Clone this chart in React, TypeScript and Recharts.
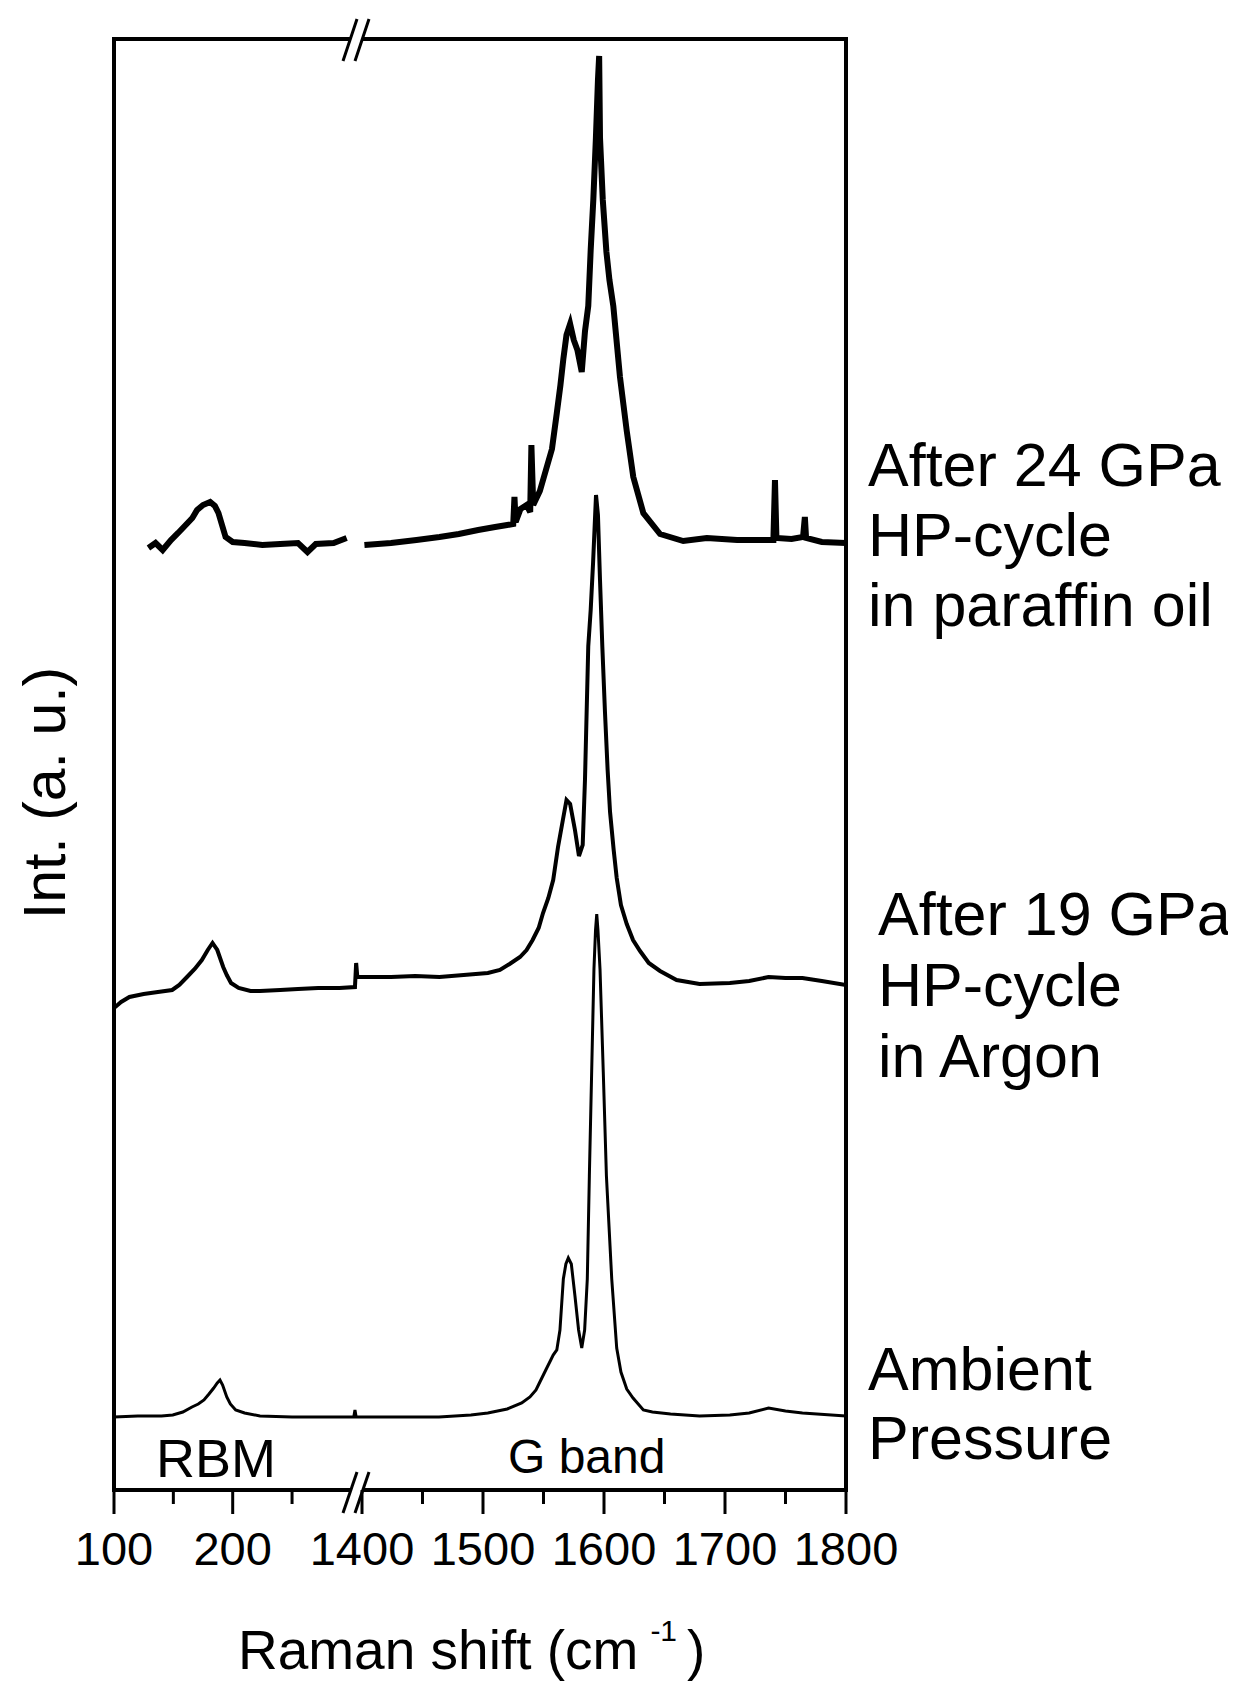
import React from 'react';
import { LineChart, Line, XAxis, YAxis, ReferenceArea, ReferenceLine, Customized } from 'recharts';

// ---------- data (Raman shift in cm^-1, intensity in arbitrary units) ----------
const paraffinLeftShift = [129, 135, 141, 148, 154, 158, 162, 166, 170, 175, 181, 185, 188, 191, 194, 200, 210, 225, 240, 255, 263, 270, 285, 296];
const paraffinLeftInt = [942, 947, 940, 950, 957, 962, 967, 972, 980, 985, 988, 984, 977, 965, 953, 948, 947, 945, 946, 947, 938, 946, 947, 952];

const paraffinRightShift = [1402, 1424, 1445, 1464, 1480, 1496, 1510, 1520, 1525, 1526, 1527, 1531, 1536, 1539, 1540, 1541.5, 1547, 1552, 1557, 1561, 1564, 1566.4, 1569, 1572, 1575, 1578, 1581.6, 1584.3, 1587, 1589, 1591.2, 1593.3, 1595, 1596, 1596.7, 1599, 1602, 1604.5, 1607.7, 1613.2, 1618.8, 1624.2, 1632.5, 1646.3, 1665.5, 1685, 1710, 1730, 1740, 1741.3, 1742.5, 1755, 1764.5, 1766, 1767, 1780, 1800];
const paraffinRightInt = [945, 947, 950, 953, 956, 960, 963, 965, 966, 993, 968, 981, 985, 978, 1045, 985, 999, 1020, 1041, 1077, 1105, 1131, 1155, 1166, 1150, 1140, 1118, 1159, 1184, 1240, 1291, 1352, 1410, 1434, 1352, 1290, 1238, 1210, 1184, 1113, 1059, 1013, 977, 956, 949, 952, 950, 950, 950, 1010, 952, 951, 953, 973, 952, 948, 947];

const argonShift = [100, 106, 113, 125, 137, 149, 155, 161.5, 168, 174, 179, 183, 187, 192, 195, 198.6, 205, 215, 223, 240, 255, 272, 290, 303, 304, 305, 1400, 1424, 1444, 1464, 1484, 1504, 1514, 1522, 1530.6, 1536, 1541, 1546, 1549.6, 1554, 1558, 1562, 1566, 1569, 1572, 1576, 1579.3, 1582.4, 1584.3, 1587, 1589, 1591, 1593.4, 1595, 1596.7, 1598.6, 1600.8, 1603, 1605, 1608, 1610.5, 1614, 1618.8, 1624, 1629.8, 1637, 1646.3, 1660, 1679, 1704, 1720, 1736, 1750, 1764, 1780, 1800];
const argonInt = [482, 488, 493, 496, 498, 500, 505, 513, 521, 530, 540, 547, 540, 523, 515, 507, 502, 499, 499, 500, 501, 502, 502, 503, 527, 513, 513, 513, 514, 513, 515, 517, 520, 526, 533, 540, 550, 562, 577, 592, 610, 643, 670, 690, 686, 660, 634, 645, 711, 844, 880, 928, 995, 975, 910, 844, 778, 720, 678, 640, 612, 585, 566, 550, 539, 527, 519, 510, 506, 507, 509, 513, 512, 512, 509, 505];

const ambientShift = [100, 120, 140, 149.5, 158, 165.7, 171, 175.8, 180, 184, 187, 189.3, 191.5, 195, 198, 202.5, 210, 223, 250, 280, 302, 303, 304, 1400, 1430, 1463.6, 1490, 1504, 1520, 1532, 1538.8, 1543.8, 1547, 1552.7, 1556, 1558, 1561, 1563.6, 1566.4, 1568.5, 1570.5, 1573, 1576, 1579, 1581.6, 1584, 1586.2, 1587.9, 1589.8, 1591.7, 1593, 1594, 1595, 1596.7, 1599.4, 1602, 1606.4, 1610.5, 1614, 1618.8, 1624, 1632.5, 1640, 1655, 1679, 1704, 1720, 1736, 1750, 1764, 1800];
const ambientInt = [73, 74, 74, 75, 78, 83, 86, 90, 96, 102, 107, 110, 105, 93, 86, 80, 77, 74, 73, 73, 73, 80, 73, 73, 73, 73, 75, 77, 81, 87, 93, 100, 108, 122, 130, 135, 140, 160, 211, 226, 232, 226, 194, 160, 142, 160, 211, 314, 418, 521, 560, 576, 560, 521, 418, 314, 211, 142, 118, 101, 92, 80, 78, 76, 74, 75, 77, 82, 79, 77, 74];

const tickShifts = [100, 150, 200, 250, 1400, 1450, 1500, 1550, 1600, 1650, 1700, 1750, 1800];
const tickLabels = ['100', '', '200', '', '1400', '', '1500', '', '1600', '', '1700', '', '1800'];

const seriesLabels = [
  ['After 24 GPa', 'HP-cycle', 'in paraffin oil'],
  ['After 19 GPa', 'HP-cycle', 'in Argon'],
  ['Ambient', 'Pressure'],
];

// ---------- broken axis scale: 100-310 | 1400-1800 ----------
const toP = (s: number) => (s < 1000 ? (s - 100) * 1.187 : 248 + (s - 1400) * 1.21);
const P_MAX = toP(1800);
const V_MAX = 1451;
const BREAK_P = 242;

const build = (xs: number[], ys: number[]) => xs.map((s, i) => ({ p: toP(s), v: ys[i] }));

const paraffinLeft = build(paraffinLeftShift, paraffinLeftInt);
const paraffinRight = build(paraffinRightShift, paraffinRightInt);
const argon = build(argonShift, argonInt);
const ambient = build(ambientShift, ambientInt);
const tickPos = tickShifts.map(toP);

const FONT = '"Liberation Sans", Arial, Helvetica, sans-serif';

const AxisTick = (props: any) => {
  const { x, y, index } = props;
  const label = tickLabels[index] ?? '';
  const major = label !== '';
  return (
    <g>
      <line x1={x} y1={y} x2={x} y2={y + (major ? 24 : 14)} stroke="#000" strokeWidth={3} />
      {major && (
        <text x={x} y={y + 75} textAnchor="middle" fontSize={47} fontFamily={FONT} fill="#000">
          {label}
        </text>
      )}
    </g>
  );
};

const Texts = () => (
  <g fontFamily={FONT} fill="#000">
    <text transform="translate(57,785) rotate(-90)" textAnchor="middle" fontSize={59}>Int. (a. u.)</text>
    <text x={230} y={1661} fontSize={55}>
      Raman shift (cm
      <tspan dx={12} dy={-28} fontSize={30}>-1</tspan>
      <tspan dx={10} dy={28}>)</tspan>
    </text>
    <text x={148} y={1469} fontSize={54}>RBM</text>
    <text x={500} y={1465} fontSize={48}>G band</text>
    {seriesLabels[0].map((t, i) => (
      <text key={'a' + i} x={860} y={478 + i * 70} fontSize={61}>{t}</text>
    ))}
    {seriesLabels[1].map((t, i) => (
      <text key={'b' + i} x={870} y={927 + i * 71} fontSize={61}>{t}</text>
    ))}
    {seriesLabels[2].map((t, i) => (
      <text key={'c' + i} x={860} y={1382 + i * 69} fontSize={61}>{t}</text>
    ))}
  </g>
);

export default function App() {
  return (
    <div style={{ width: 1228, height: 1676 }}>
      <LineChart width={1228} height={1676} margin={{ top: 31, right: 390, left: 106, bottom: 134 }}>
        <XAxis
          type="number"
          dataKey="p"
          domain={[0, P_MAX]}
          ticks={tickPos}
          interval={0}
          tickSize={0}
          tickMargin={0}
          axisLine={false}
          tickLine={false}
          height={60}
          tick={<AxisTick />}
          allowDataOverflow
        />
        <YAxis type="number" dataKey="v" domain={[0, V_MAX]} hide allowDataOverflow />
        <ReferenceArea x1={0} x2={P_MAX} y1={0} y2={V_MAX} fill="none" stroke="#000" strokeWidth={4} ifOverflow="visible" />
        <Line data={paraffinLeft} dataKey="v" type="linear" stroke="#000" strokeWidth={6} dot={false} isAnimationActive={false} />
        <Line data={paraffinRight} dataKey="v" type="linear" stroke="#000" strokeWidth={6} dot={false} isAnimationActive={false} />
        <Line data={argon} dataKey="v" type="linear" stroke="#000" strokeWidth={4} dot={false} isAnimationActive={false} />
        <Line data={ambient} dataKey="v" type="linear" stroke="#000" strokeWidth={3} dot={false} isAnimationActive={false} />
        <ReferenceLine segment={[{ x: BREAK_P - 6, y: V_MAX }, { x: BREAK_P + 6, y: V_MAX }]} stroke="#fff" strokeWidth={6} ifOverflow="visible" />
        <ReferenceLine segment={[{ x: BREAK_P - 6, y: 0 }, { x: BREAK_P + 6, y: 0 }]} stroke="#fff" strokeWidth={6} ifOverflow="visible" />
        <ReferenceLine segment={[{ x: BREAK_P - 13, y: V_MAX - 22 }, { x: BREAK_P + 1, y: V_MAX + 20 }]} stroke="#000" strokeWidth={3} ifOverflow="visible" />
        <ReferenceLine segment={[{ x: BREAK_P - 1, y: V_MAX - 22 }, { x: BREAK_P + 13, y: V_MAX + 20 }]} stroke="#000" strokeWidth={3} ifOverflow="visible" />
        <ReferenceLine segment={[{ x: BREAK_P - 13, y: -23 }, { x: BREAK_P + 1, y: 18 }]} stroke="#000" strokeWidth={3} ifOverflow="visible" />
        <ReferenceLine segment={[{ x: BREAK_P - 1, y: -23 }, { x: BREAK_P + 13, y: 18 }]} stroke="#000" strokeWidth={3} ifOverflow="visible" />
        <Customized component={Texts} />
      </LineChart>
    </div>
  );
}
